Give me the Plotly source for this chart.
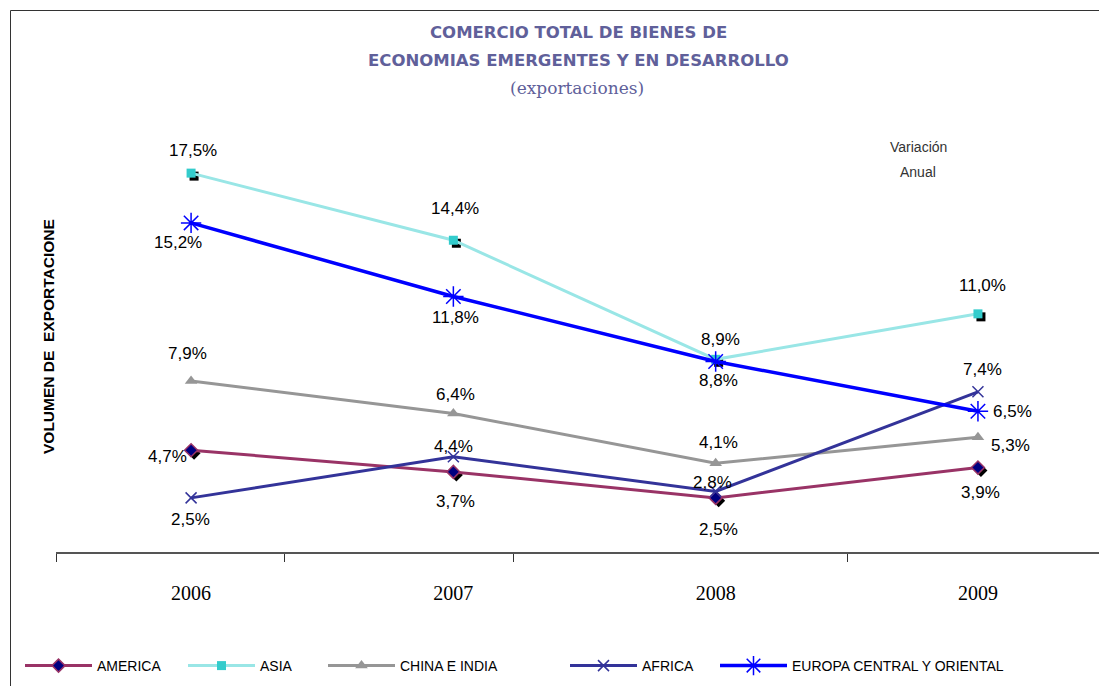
import plotly.graph_objects as go

years = ["2006", "2007", "2008", "2009"]
america = [4.7, 3.7, 2.5, 3.9]
asia = [17.5, 14.4, 8.9, 11.0]
china_india = [7.9, 6.4, 4.1, 5.3]
africa = [2.5, 4.4, 2.8, 7.4]
europa = [15.2, 11.8, 8.8, 6.5]

xpos = list(range(len(years)))
axis_tick_marks = [-0.515, 0.3546, 1.2276, 2.501]

OFF = 8  # page body margin
W, H = 1107 - OFF, 686 - OFF
ML, MR, MT = 56 - OFF, 0, 119 - OFF
MB = H - (552 - OFF)
XR = [-0.515, 3.492]
YR = [0, 20]
pw = W - ML - MR
ph = H - MT - MB
xunit = pw / (XR[1] - XR[0])
yunit = ph / (YR[1] - YR[0])


def px(x):
    return (x - OFF - ML) / pw


def py(y):
    return (H - MB - (y - OFF)) / ph


def fmt(v):
    return f"{v:.1f}".replace(".", ",") + "%"


series = [
    dict(name="AMERICA", data=america, line=dict(color="#993366", width=3),
         marker=dict(symbol="diamond", size=10, color="#000080",
                     line=dict(color="#993366", width=1.5)),
         shadow=dict(symbol="diamond", size=10), leg_x=27,
         offs=[(-24, 6), (2, 30), (3, 32), (3, 25)]),
    dict(name="ASIA", data=asia, line=dict(color="#99E6E6", width=3),
         marker=dict(symbol="square", size=9, color="#33CCCC",
                     line=dict(color="#33CCCC", width=0)),
         shadow=dict(symbol="square", size=9), leg_x=190,
         offs=[(2, -23), (2, -32), (5, -20), (5, -28)]),
    dict(name="CHINA E INDIA", data=china_india, line=dict(color="#969696", width=3),
         marker=dict(symbol="triangle-up", size=11, color="#969696",
                     line=dict(color="#969696", width=0)),
         shadow=None, leg_x=330,
         offs=[(-4, -27), (2, -19), (3, -21), (33, 8)]),
    dict(name="AFRICA", data=africa, line=dict(color="#333399", width=3),
         marker=dict(symbol="x-thin-open", size=11, color="#333399",
                     line=dict(color="#333399", width=1.5)),
         shadow=None, leg_x=572,
         offs=[(-1, 22), (0, -10), (-3, -9), (5, -22)]),
    dict(name="EUROPA CENTRAL Y ORIENTAL", data=europa, line=dict(color="#0000FF", width=3.5),
         marker=dict(symbol="asterisk-open", size=17, color="#0000FF",
                     line=dict(color="#0000FF", width=1.5)),
         shadow=None, leg_x=722,
         offs=[(-13, 20), (2, 21), (3, 19), (35, 0)]),
]

fig = go.Figure()

# marker shadows on the (hidden, slightly shifted) base axes
for s in series:
    if s["shadow"]:
        fig.add_trace(go.Scatter(
            x=xpos, y=s["data"], mode="markers", xaxis="x", yaxis="y",
            marker=dict(symbol=s["shadow"]["symbol"], size=s["shadow"]["size"], color="#000000"),
            showlegend=False, hoverinfo="skip"))

legend_layouts = {}
for k, s in enumerate(series):
    lname = "legend" if k == 0 else f"legend{k + 1}"
    fig.add_trace(go.Scatter(
        x=xpos, y=s["data"], mode="lines+markers", name=s["name"],
        xaxis="x2", yaxis="y2", line=s["line"], marker=s["marker"], legend=lname))
    legend_layouts[lname] = dict(
        orientation="h", x=px(s["leg_x"] - 7), y=py(666), xanchor="left", yanchor="middle",
        font=dict(family="Liberation Sans, Arial", size=14, color="#000000"),
        itemwidth=67, bgcolor="rgba(0,0,0,0)")

annotations = []
for s in series:
    for i, v in enumerate(s["data"]):
        dx, dy = s["offs"][i]
        annotations.append(dict(
            x=xpos[i], y=v, xref="x2", yref="y2", text=fmt(v), showarrow=False,
            xanchor="center", yanchor="middle",
            xshift=dx, yshift=-dy, font=dict(family="Liberation Sans, Arial", size=17, color="#000000")))

title_color = "#60609A"
text_items = [
    dict(x=px(578), y=py(33), text="<b>COMERCIO TOTAL DE BIENES DE</b>",
         font=dict(family="DejaVu Sans", size=16.5, color=title_color)),
    dict(x=px(578), y=py(61), text="<b>ECONOMIAS EMERGENTES Y EN DESARROLLO</b>",
         font=dict(family="DejaVu Sans", size=16.5, color=title_color)),
    dict(x=px(577), y=py(88), text="(exportaciones)",
         font=dict(family="DejaVu Serif", size=17, color=title_color)),
    dict(x=px(918), y=py(147), text="Variación",
         font=dict(family="Liberation Sans, Arial", size=14, color="#333333")),
    dict(x=px(918), y=py(172), text="Anual",
         font=dict(family="Liberation Sans, Arial", size=14, color="#333333")),
    dict(x=px(48), y=py(337), text="<b>VOLUMEN DE  EXPORTACIONE</b>", textangle=-90,
         font=dict(family="Liberation Sans, Arial", size=15.5, color="#000000")),
]
for a in text_items:
    a.update(xref="paper", yref="paper", showarrow=False, xanchor="center", yanchor="middle")
annotations.extend(text_items)

shapes = [dict(type="rect", xref="paper", yref="paper",
               x0=px(10.5), x1=px(1300), y0=py(10.5), y1=py(800),
               line=dict(color="#333333", width=1), fillcolor="rgba(0,0,0,0)", layer="below")]

sx = 3 / xunit
sy = 3 / yunit
fig.update_layout(
    width=W, height=H,
    margin=dict(l=ML, r=MR, t=MT, b=MB),
    paper_bgcolor="#FFFFFF", plot_bgcolor="#FFFFFF",
    xaxis=dict(range=[XR[0] - sx, XR[1] - sx], visible=False, fixedrange=True),
    yaxis=dict(range=[YR[0] + sy, YR[1] + sy], visible=False, fixedrange=True),
    xaxis2=dict(range=XR, overlaying="x", side="bottom", tickmode="array", tickvals=xpos, ticktext=years,
                ticks="", showgrid=False, zeroline=False, showline=True, linecolor="#555555", linewidth=1.5,
                tickfont=dict(family="Liberation Serif, Times New Roman", size=20, color="#000000"),
                ticklabelstandoff=22,
                minor=dict(tickmode="array", tickvals=axis_tick_marks, ticks="outside", ticklen=8,
                           tickcolor="#333333", tickwidth=1, showgrid=False)),
    yaxis2=dict(range=YR, overlaying="y", showgrid=False, zeroline=False, showline=False,
                showticklabels=False, ticks=""),
    annotations=annotations,
    shapes=shapes,
    showlegend=True,
    **legend_layouts,
)

fig.write_html("out.html")
